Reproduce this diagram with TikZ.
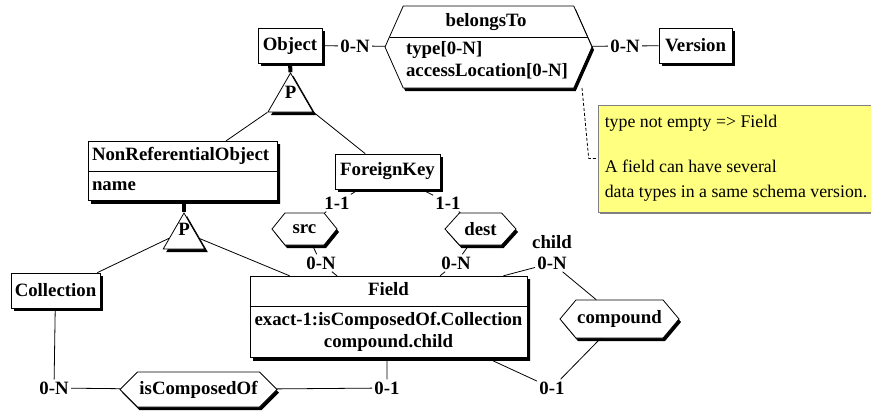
\documentclass[tikz,border=0pt]{standalone}
\usepackage{fontspec}
\setmainfont{Liberation Serif}
\usetikzlibrary{shapes.geometric,shapes.symbols,shapes.multipart,shadows}
\definecolor{notefill}{RGB}{255,255,128}

\begin{document}
\begin{tikzpicture}[x=0.5pt,y=-0.5pt,
    every node/.style={font=\fontsize{9.4}{11}\selectfont\bfseries},
    box/.style={draw, fill=white,
      drop shadow={shadow xshift=1.5pt, shadow yshift=-1.5pt, fill=black, opacity=1}},
    entity/.style={box, inner sep=0pt, minimum height=17.5pt},
    splitentity/.style={box, rectangle split, rectangle split parts=2,
      inner xsep=2pt, inner ysep=1.75pt},
    rel/.style={shape=signal, signal to=east and west, draw, fill=white,
      inner sep=0pt,
      drop shadow={shadow xshift=1pt, shadow yshift=-1.5pt, fill=black, opacity=1}},
    isatri/.style={regular polygon, regular polygon sides=3, draw, fill=white,
      inner sep=0pt,
      drop shadow={shadow xshift=1.5pt, shadow yshift=-1.5pt, fill=black, opacity=1}},
    isa/.style={line width=2pt},
    card/.style={inner sep=1pt},
    note/.style={draw=gray, fill=notefill, align=left,
      font=\fontsize{8.9}{12.5}\selectfont,
      drop shadow={shadow xshift=0.75pt, shadow yshift=-0.75pt, fill=gray, opacity=1}},
    noteline/.style={dash pattern=on 1.5pt off 1pt}]

    \useasboundingbox (0,0) rectangle (871,414);

    % Entities
    \node[entity, minimum width=32pt] (obj) at (290,45.5) {Object};
    \node[entity, minimum width=36.5pt] (ver) at (695.5,45.5) {Version};
    \node[entity, minimum width=52.5pt] (fk) at (387.5,171.5) {ForeignKey};
    \node[entity, minimum width=44.5pt] (coll) at (55.5,290.5) {Collection};
    \node[splitentity, text width=90.5pt, align=left] (nro) at (182.5,171)
      {\strut NonReferentialObject\nodepart{two}\strut name};
    \node[splitentity, text width=134.5pt, align=center] (field) at (388.5,317)
      {\strut Field\nodepart{two}\strut exact-1:isComposedOf.Collection\\compound.child\strut};

    % Relationships
    \node[rel, minimum width=103.5pt, minimum height=41pt, signal pointer angle=132] (bt) at (488.5,47) {};
    \draw (389.5,37) -- (587.5,37);
    \node (bttitle) at (486,22) {belongsTo};
    \node[anchor=west, align=left] (btattr) at (399,60.5) {type[0-N]\\accessLocation[0-N]};
    \node[rel, minimum width=32.5pt, minimum height=16pt, signal pointer angle=102] (src) at (304.5,229) {src};
    \node[rel, minimum width=35.5pt, minimum height=16pt, signal pointer angle=96] (dest) at (480.5,229) {dest};
    \node[rel, minimum width=59.5pt, minimum height=19pt, signal pointer angle=100] (cmp) at (619.5,319) {compound};
    \node[rel, minimum width=78.5pt, minimum height=17.5pt, signal pointer angle=90] (ico) at (198.5,389.5) {isComposedOf};

    % Partitions
    \node[isatri, minimum size=26pt] (p1) at (290.5,99) {\raisebox{0.5pt}[0pt][0pt]{P}};
    \node[isatri, minimum size=24pt] (p2) at (184,237) {\raisebox{0.6pt}[0pt][0pt]{P}};

    % Cardinalities
    \node[card] (c1) at (355,46) {0-N};
    \node[card] (c2) at (625,46) {0-N};
    \node[card] (c3) at (337,203) {1-1};
    \node[card] (c4) at (448,203) {1-1};
    \node[card] (c5) at (321,263) {0-N};
    \node[card] (c6) at (456,263) {0-N};
    \node[card] (c7) at (552,263) {0-N};
    \node[card] (childlbl) at (552,242) {child};
    \node[card] (c8) at (552,388) {0-1};
    \node[card] (c9) at (54,388) {0-N};
    \node[card] (c10) at (387,388) {0-1};

    % Links
    \draw (obj) -- (c1) -- (bt);
    \draw (bt) -- (c2) -- (ver);
    \draw (fk) -- (c3) -- (src);
    \draw (fk) -- (c4) -- (dest);
    \draw (src) -- (c5) -- (field);
    \draw (dest) -- (c6) -- (field);
    \draw ([xshift=-12pt]field.north east) -- (c7) -- (cmp);
    \draw ([xshift=-20pt]field.south east) -- (c8) -- (cmp);
    \draw (coll) -- (c9) -- (ico);
    \draw (ico) -- (c10) -- (c10 |- field.south);

    % Generalisation
    \draw[isa] (obj.south) -- (p1.corner 1);
    \draw (p1.corner 2) -- (nro);
    \draw (p1.corner 3) -- (fk);
    \draw[isa] (p2.corner 1 |- nro.south) -- (p2.corner 1);
    \draw (p2.185) -- ([xshift=-1.5pt]coll.north east);
    \draw (p2.355) -- ([xshift=20pt]field.north west);

    % Note
    \node[note, minimum width=134pt, minimum height=53.5pt] (note) at (736,158.5)
      {type not empty => Field\\[10pt]A field can have several\\data types in a same schema version.};
    \coordinate (btcorner) at (582,88);
    \draw[noteline] (btcorner) -- ([xshift=-4.5pt]note.west) -- (note.west);

\end{tikzpicture}
\end{document}
